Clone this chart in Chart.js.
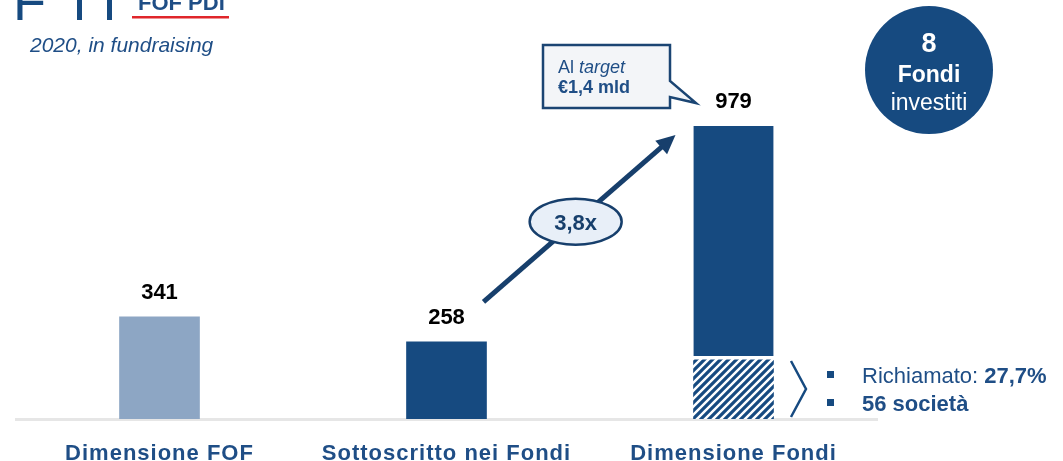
<!DOCTYPE html>
<html lang="it">
<head>
<meta charset="utf-8">
<title>FOF PDI – 2020, in fundraising</title>
<script src="https://cdn.jsdelivr.net/npm/chart.js@4.4.1/dist/chart.umd.min.js"></script>
<style>
  html, body { margin: 0; padding: 0; background: #fff; }
  #wrap { width: 1063px; height: 461px; }
</style>
</head>
<body>
<div id="wrap"><canvas id="chart" width="1063" height="461"></canvas></div>
<script>
/* Dati (milioni di euro). */
const categories = ['Dimensione FOF', 'Sottoscritto nei Fondi', 'Dimensione Fondi'];
const totals = [341, 258, 979];
const richiamato = [0, 0, 198]; // parte tratteggiata alla base della terza barra
const barColors = ['#8da6c4', '#164a80', '#164a80'];
const yRange = [0, 1400]; // asse y nascosto

const FONT = "'Liberation Sans', Arial, sans-serif";
const NAVY = '#164a80';
const DARK = '#173f6c';
const TEXT_BLUE = '#1f4e86';

function hatchPattern() {
  const c = document.createElement('canvas');
  c.width = 8;
  c.height = 8;
  const x = c.getContext('2d');
  x.fillStyle = '#fff';
  x.fillRect(0, 0, 8, 8);
  x.strokeStyle = NAVY;
  x.lineWidth = 3.2;
  x.beginPath();
  x.moveTo(-2, 10); x.lineTo(10, -2);
  x.moveTo(-6, 6); x.lineTo(6, -6);
  x.moveTo(2, 14); x.lineTo(14, 2);
  x.stroke();
  return x.createPattern(c, 'repeat');
}

// scrive una riga composta da più pezzi con stili diversi
function runs(ctx, parts, x, y, color) {
  ctx.fillStyle = color;
  ctx.textAlign = 'left';
  ctx.textBaseline = 'alphabetic';
  parts.forEach(function (p) {
    ctx.font = p[1];
    ctx.fillText(p[0], x, y);
    x += ctx.measureText(p[0]).width;
  });
}

function centered(ctx, s, x, y, font, color) {
  ctx.font = font;
  ctx.fillStyle = color;
  ctx.textAlign = 'center';
  ctx.textBaseline = 'alphabetic';
  ctx.fillText(s, x, y);
}

// spaziatura delle etichette dell'asse x (disegnate prima dei dataset)
const tickSpacing = {
  id: 'tickSpacing',
  beforeDraw(chart) { chart.ctx.letterSpacing = '1px'; },
  beforeDatasetsDraw(chart) { chart.ctx.letterSpacing = '0px'; }
};

const decorations = {
  id: 'decorations',
  afterDraw(chart) {
    const ctx = chart.ctx;
    const bars = chart.getDatasetMeta(1).data;
    ctx.save();

    // valori sopra le barre
    bars.forEach(function (bar, i) {
      centered(ctx, String(totals[i]), bar.x, bar.y - 18, 'bold 22px ' + FONT, '#000');
    });

    // freccia 258 -> 979
    const sx = bars[1].x + 37, sy = bars[1].y - 40;
    const ex = bars[2].x - 58, ey = bars[2].y + 9;
    const ang = Math.atan2(ey - sy, ex - sx);
    const head = 19;
    ctx.strokeStyle = DARK;
    ctx.fillStyle = DARK;
    ctx.lineWidth = 5;
    ctx.beginPath();
    ctx.moveTo(sx, sy);
    ctx.lineTo(ex - Math.cos(ang) * (head - 2), ey - Math.sin(ang) * (head - 2));
    ctx.stroke();
    ctx.beginPath();
    ctx.moveTo(ex, ey);
    ctx.lineTo(ex - Math.cos(ang) * head + Math.sin(ang) * 9, ey - Math.sin(ang) * head - Math.cos(ang) * 9);
    ctx.lineTo(ex - Math.cos(ang) * head - Math.sin(ang) * 9, ey - Math.sin(ang) * head + Math.cos(ang) * 9);
    ctx.closePath();
    ctx.fill();

    // ellisse 3,8x
    const cx = sx + (ex - sx) * 0.48, cy = sy + (ey - sy) * 0.48;
    ctx.beginPath();
    ctx.ellipse(cx, cy, 46, 23, 0, 0, Math.PI * 2);
    ctx.fillStyle = '#e8eff8';
    ctx.fill();
    ctx.lineWidth = 2.5;
    ctx.stroke();
    centered(ctx, '3,8x', cx, cy + 8, 'bold 22px ' + FONT, DARK);

    // fumetto "Al target"
    ctx.beginPath();
    ctx.moveTo(543, 45);
    ctx.lineTo(670, 45);
    ctx.lineTo(670, 81);
    ctx.lineTo(696, 103);
    ctx.lineTo(670, 97);
    ctx.lineTo(670, 108);
    ctx.lineTo(543, 108);
    ctx.closePath();
    ctx.fillStyle = '#f3f5f8';
    ctx.fill();
    ctx.lineWidth = 2.5;
    ctx.strokeStyle = '#1b4573';
    ctx.stroke();
    runs(ctx, [['Al ', '18px ' + FONT], ['target', 'italic 18px ' + FONT]], 558, 73, TEXT_BLUE);
    runs(ctx, [['€1,4 mld', 'bold 18px ' + FONT]], 558, 93, TEXT_BLUE);

    // cerchio "8 Fondi investiti"
    ctx.beginPath();
    ctx.arc(929, 70, 64, 0, Math.PI * 2);
    ctx.fillStyle = NAVY;
    ctx.fill();
    centered(ctx, '8', 929, 52, 'bold 27px ' + FONT, '#fff');
    centered(ctx, 'Fondi', 929, 82, 'bold 23px ' + FONT, '#fff');
    centered(ctx, 'investiti', 929, 110, '23px ' + FONT, '#fff');

    // parentesi e punti elenco
    ctx.beginPath();
    ctx.moveTo(791, 361);
    ctx.lineTo(806, 389);
    ctx.lineTo(791, 417);
    ctx.lineWidth = 2.5;
    ctx.strokeStyle = NAVY;
    ctx.stroke();
    ctx.fillStyle = NAVY;
    ctx.fillRect(827, 371, 7, 7);
    ctx.fillRect(827, 399, 7, 7);
    runs(ctx, [['Richiamato: ', '22px ' + FONT], ['27,7%', 'bold 22px ' + FONT]], 862, 383, TEXT_BLUE);
    runs(ctx, [['56 società', 'bold 22px ' + FONT]], 862, 411, TEXT_BLUE);

    // intestazione (tagliata in alto)
    ctx.font = '54px ' + FONT;
    ctx.fillStyle = NAVY;
    ctx.textAlign = 'left';
    ctx.fillText('F', 13, 20);
    ctx.fillText('I', 72, 20);
    ctx.fillText('I', 102, 20);
    runs(ctx, [['FOF PDI', 'bold 22px ' + FONT]], 138, 10, TEXT_BLUE);
    ctx.fillStyle = '#e0262b';
    ctx.fillRect(132, 16, 97, 2.5);
    runs(ctx, [['2020, in fundraising', 'italic 21px ' + FONT]], 30, 52, TEXT_BLUE);

    ctx.restore();
  }
};

const ctx = document.getElementById('chart').getContext('2d');
const hatch = hatchPattern();

new Chart(ctx, {
  type: 'bar',
  data: {
    labels: categories,
    datasets: [
      {
        label: 'Richiamato',
        data: richiamato,
        backgroundColor: function (c) {
          return richiamato[c.dataIndex] ? hatch : 'rgba(0,0,0,0)';
        },
        borderWidth: 0,
        barThickness: 80,
      },
      {
        label: 'Dimensione',
        data: totals.map(function (v, i) { return v - richiamato[i]; }),
        backgroundColor: barColors,
        borderColor: '#fff',
        borderSkipped: false,
        // stacco bianco sopra la parte tratteggiata
        borderWidth: function (c) {
          return richiamato[c.dataIndex] ? { top: 0, left: 0, right: 0, bottom: 4 } : 0;
        },
        barThickness: 80,
      },
    ],
  },
  options: {
    responsive: false,
    animation: false,
    devicePixelRatio: 1,
    layout: { padding: { left: 16, right: 186, top: 0, bottom: 0 } },
    plugins: {
      legend: { display: false },
      tooltip: { enabled: false },
    },
    scales: {
      x: {
        stacked: true,
        grid: { display: false },
        border: { display: true, color: '#e6e6e6', width: 3 },
        ticks: {
          color: TEXT_BLUE,
          font: { family: FONT, size: 22, weight: 'bold' },
          padding: 14,
          maxRotation: 0,
          autoSkip: false,
        },
        afterFit: function (s) { s.height = 42; },
      },
      y: {
        stacked: true,
        display: false,
        min: yRange[0],
        max: yRange[1],
      },
    },
  },
  plugins: [tickSpacing, decorations],
});
</script>
</body>
</html>
